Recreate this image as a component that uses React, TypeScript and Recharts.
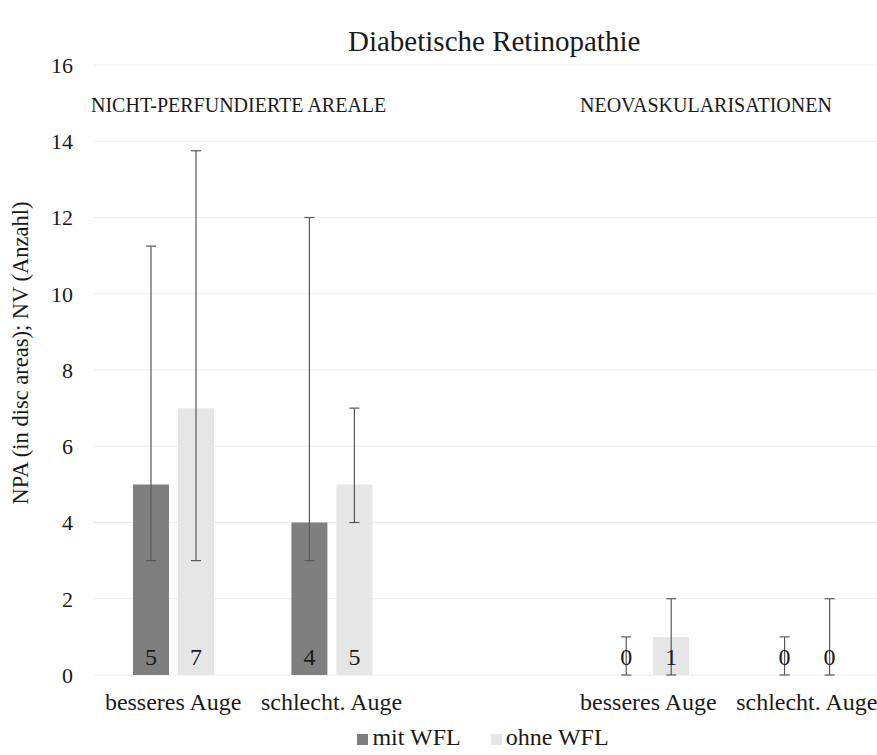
import React from 'react';
import { BarChart, Bar, XAxis, YAxis, CartesianGrid, ErrorBar, LabelList, Legend } from 'recharts';

const categories = ['besseres Auge', 'schlecht. Auge', '', 'besseres Auge', 'schlecht. Auge'];
const mitWFL = [5, 4, null, 0, 0];
const ohneWFL = [7, 5, null, 1, 0];
// asymmetric error ranges: [below, above]
const mitWFLErr = [[2, 6.25], [1, 8], null, [0, 1], [0, 1]];
const ohneWFLErr = [[4, 6.75], [1, 2], null, [1, 1], [0, 2]];
const yTicks = [0, 2, 4, 6, 8, 10, 12, 14, 16];

const data = categories.map((c, i) => ({
  category: c,
  mit: mitWFL[i],
  ohne: ohneWFL[i],
  mitErr: mitWFLErr[i],
  ohneErr: ohneWFLErr[i],
}));

const FONT = '"Liberation Serif", "Times New Roman", serif';
const DARK = '#7f7f7f';
const LIGHT = '#e7e6e6';
const TEXT = '#1a1a1a';

// keep zero bars in the layout so their labels and error bars still get drawn
const zeroSize = (v: any) => (v === 0 ? 0.01 : 0);

const renderCount = (props: any) => {
  const { x, y, width, height, value } = props;
  if (value == null) return null;
  return (
    <text x={x + width / 2} y={y + height - 10} textAnchor="middle" fontSize={24} fill={TEXT} fontFamily={FONT}>
      {value}
    </text>
  );
};

const swatch = (color: string) => (
  <span style={{ display: 'inline-block', width: 11, height: 11, background: color, marginRight: 4, position: 'relative', top: 2 }} />
);

const renderLegend = () => (
  <div style={{ height: 35, display: 'flex', justifyContent: 'center', alignItems: 'center', paddingLeft: 80, fontFamily: FONT, fontSize: 24, color: TEXT }}>
    {swatch(DARK)}
    <span style={{ marginRight: 30 }}>mit WFL</span>
    {swatch(LIGHT)}
    <span>ohne WFL</span>
  </div>
);

export default function App() {
  return (
    <div style={{ position: 'absolute', left: 0, top: 0, width: 877, height: 755, overflow: 'hidden', background: '#fff', fontFamily: FONT }}>
      <div style={{ position: 'absolute', left: 348, top: 25, fontSize: 29, color: TEXT, whiteSpace: 'nowrap' }}>
        Diabetische Retinopathie
      </div>
      <div style={{ position: 'absolute', left: 91, top: 94, fontSize: 20, color: TEXT, whiteSpace: 'nowrap', zIndex: 2 }}>
        NICHT-PERFUNDIERTE AREALE
      </div>
      <div style={{ position: 'absolute', left: 580, top: 94, fontSize: 20, color: TEXT, whiteSpace: 'nowrap', zIndex: 2 }}>
        NEOVASKULARISATIONEN
      </div>
      <div
        style={{
          position: 'absolute', left: 21, top: 353, transform: 'translate(-50%, -50%) rotate(-90deg)',
          fontSize: 22.5, color: TEXT, whiteSpace: 'nowrap', zIndex: 2,
        }}
      >
        NPA (in disc areas); NV (Anzahl)
      </div>
      <BarChart width={900} height={755} data={data} margin={{ top: 65, right: 14, left: 0, bottom: 0 }} barSize={36} barGap={9}>
        <CartesianGrid vertical={false} stroke="#ececec" />
        <XAxis
          dataKey="category"
          axisLine={false}
          tickLine={false}
          height={45}
          tickMargin={12}
          interval={0}
          tick={{ fontSize: 24, fill: TEXT, fontFamily: FONT }}
        />
        <YAxis
          domain={[0, 16]}
          ticks={yTicks}
          width={94}
          axisLine={false}
          tickLine={false}
          tickMargin={15}
          tick={{ fontSize: 22, fill: TEXT, fontFamily: FONT }}
        />
        <Legend verticalAlign="bottom" content={renderLegend} />
        <Bar dataKey="mit" name="mit WFL" fill={DARK} minPointSize={zeroSize} isAnimationActive={false}>
          <ErrorBar dataKey="mitErr" width={5} stroke="#595959" strokeWidth={1.2} isAnimationActive={false} />
          <LabelList dataKey="mit" content={renderCount} />
        </Bar>
        <Bar dataKey="ohne" name="ohne WFL" fill={LIGHT} minPointSize={zeroSize} isAnimationActive={false}>
          <ErrorBar dataKey="ohneErr" width={5} stroke="#595959" strokeWidth={1.2} isAnimationActive={false} />
          <LabelList dataKey="ohne" content={renderCount} />
        </Bar>
      </BarChart>
    </div>
  );
}
